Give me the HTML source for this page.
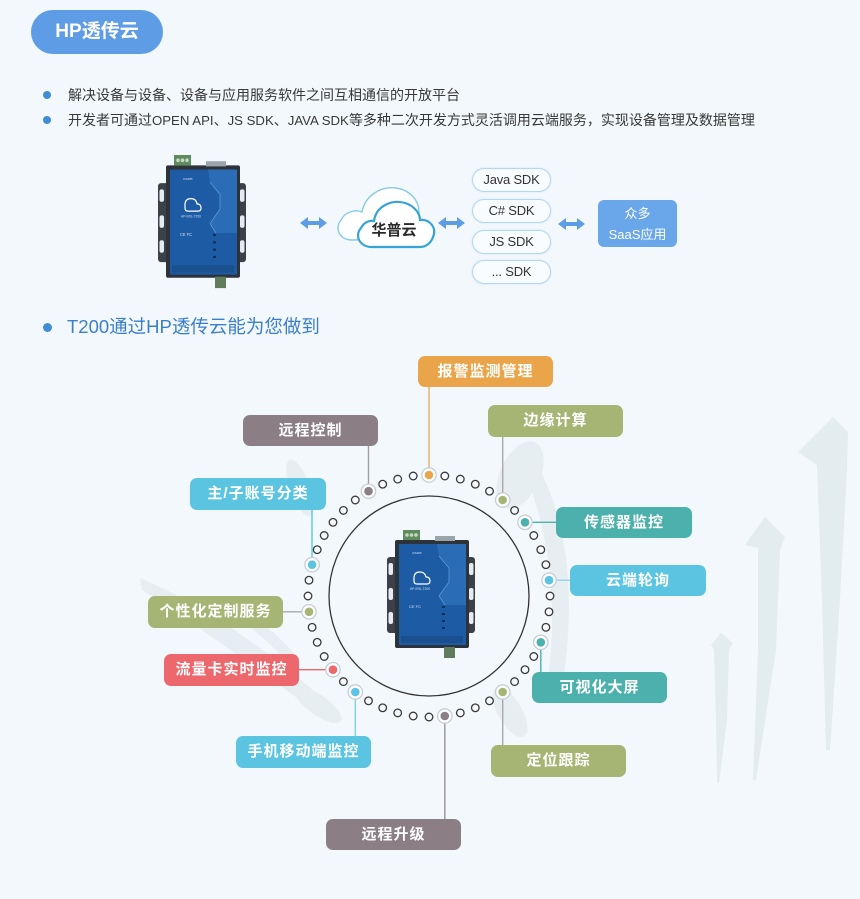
<!DOCTYPE html>
<html>
<head>
<meta charset="utf-8">
<style>
  html,body{margin:0;padding:0;}
  body{width:860px;height:899px;background:#f3f8fc;position:relative;overflow:hidden;
       font-family:"Liberation Sans","Noto Sans CJK SC",sans-serif;}
  .abs{position:absolute;}
  .pill{left:31px;top:10px;width:132px;height:44px;border-radius:22px;background:#5e9de6;
        color:#fff;font-weight:bold;font-size:19px;line-height:44px;text-align:center;}
  .dot{width:8px;height:8px;border-radius:50%;background:#3f8ed3;}
  .bl{left:68px;font-size:14px;line-height:20px;color:#383838;white-space:nowrap;}
  .bl .l{font-size:13.2px;}
  .h2{left:67px;top:314px;font-size:18.5px;line-height:26px;color:#3a7fcc;white-space:nowrap;}
  .sdk{left:472px;width:77px;height:22px;border-radius:12px;border:1.5px solid #b3d6f1;
       background:#f9fcff;box-shadow:0 0 2px #cfe4f5;color:#333;font-size:13px;line-height:22px;
       text-align:center;letter-spacing:-0.2px;}
  .saas{left:598px;top:200px;width:79px;height:47px;border-radius:6px;background:#6aa6ea;color:#fff;
        font-size:13px;line-height:21px;text-align:center;padding-top:3px;box-sizing:border-box;}
  .b{position:absolute;width:135px;height:31px;border-radius:7px;color:#fff;font-weight:bold;
     font-size:15px;line-height:31px;text-align:center;letter-spacing:1px;white-space:nowrap;}
  .or{background:#eaa54b;} .ol{background:#a6b574;} .ma{background:#8b7e85;}
  .cy{background:#5bc5e1;} .te{background:#4cb1ad;} .rd{background:#ec686d;}
</style>
</head>
<body>

<!-- background decorative feathers / arrows -->
<svg class="abs" style="left:0;top:0" width="860" height="899" viewBox="0 0 860 899">
  <g fill="#e3ecef">
    <polygon points="833,417 848,432 847,470 840,600 830,750 826,750 822,600 817,465 798,452"/>
    <polygon points="765,517 785,537 780,550 776,650 756,780 753,780 758,650 758,548 745,545"/>
    <polygon points="721,633 733,643 729,650 727,720 719,783 717,783 716,720 714,650 711,645"/>
  </g>
  <g fill="#e6eef1">
    <path d="M140,578 Q230,615 338,712 L332,724 Q220,640 142,590 Z"/>
    <path d="M230,600 Q270,625 300,660 L292,666 Q262,635 226,608 Z"/>
    <ellipse cx="300" cy="488" rx="10" ry="30" transform="rotate(-20 300 488)"/>
    <ellipse cx="520" cy="475" rx="20" ry="36" transform="rotate(25 520 475)"/>
    <path d="M540,470 Q585,560 560,700 L545,700 Q565,580 528,480 Z"/>
    <ellipse cx="318" cy="705" rx="28" ry="10" transform="rotate(35 318 705)"/>
    <ellipse cx="510" cy="712" rx="12" ry="28" transform="rotate(-30 510 712)"/>
  </g>
</svg>

<!-- header -->
<div class="abs pill">HP透传云</div>

<div class="abs dot" style="left:43px;top:91px;"></div>
<div class="abs bl" style="top:85px;">解决设备与设备、设备与应用服务软件之间互相通信的开放平台</div>
<div class="abs dot" style="left:43px;top:116px;"></div>
<div class="abs bl" style="top:110px;">开发者可通过<span class="l">OPEN API</span>、<span class="l">JS SDK</span>、<span class="l">JAVA SDK</span>等多种二次开发方式灵活调用云端服务，实现设备管理及数据管理</div>

<!-- top diagram graphics -->
<svg class="abs" style="left:0;top:0" width="860" height="899" viewBox="0 0 860 899">
  <!-- device 1 -->
  <g transform="translate(158,155) scale(1,1.04)">
    <rect x="0" y="27" width="88" height="76" rx="3" fill="#3b4049"/>
    <rect x="1.5" y="33" width="4.5" height="12" rx="2" fill="#e6ebef"/>
    <rect x="1.5" y="58" width="4.5" height="12" rx="2" fill="#e6ebef"/>
    <rect x="1.5" y="82" width="4.5" height="12" rx="2" fill="#e6ebef"/>
    <rect x="82" y="33" width="4.5" height="12" rx="2" fill="#e6ebef"/>
    <rect x="82" y="58" width="4.5" height="12" rx="2" fill="#e6ebef"/>
    <rect x="82" y="82" width="4.5" height="12" rx="2" fill="#e6ebef"/>
    <rect x="8" y="10" width="74" height="108" rx="2" fill="#2e333a"/>
    <rect x="12" y="14" width="67" height="101" fill="#1d5ba4"/>
    <path d="M50,14 L79,14 L79,75 L58,75 L52,66 L62,52 L62,38 L52,26 Z" fill="#2a6db6"/>
    <path d="M52,26 L62,38 L62,52 L52,66 L58,75" stroke="#5a9ad6" stroke-width="0.8" fill="none"/>
    <rect x="16" y="0" width="17" height="10" fill="#5f8c5c"/>
    <circle cx="20" cy="5" r="1.8" fill="#c9d6c5"/><circle cx="24.5" cy="5" r="1.8" fill="#c9d6c5"/><circle cx="29" cy="5" r="1.8" fill="#c9d6c5"/>
    <rect x="48" y="6" width="20" height="5" fill="#9aa4ad"/>
    <rect x="57" y="117" width="11" height="11" fill="#5f7c5c"/>
    <path d="M27,48 q0,-6 6,-6 q5,0 6,5 q4,0 4,4 q0,3 -3,3 l-10,0 q-3,0 -3,-3 z" fill="none" stroke="#fff" stroke-width="1.2"/>
    <text x="33" y="60" font-size="3.2" fill="#cfe0f2" text-anchor="middle">HP-ERL-T200</text>
    <text x="30" y="24" font-size="3" fill="#cfe0f2" text-anchor="middle">RS485</text>
    <text x="28" y="78" font-size="4" fill="#cfe0f2" text-anchor="middle">CE FC</text>
    <rect x="55" y="76" width="3" height="2" fill="#0d2f5a"/><rect x="55" y="83" width="3" height="2" fill="#0d2f5a"/>
    <rect x="55" y="90" width="3" height="2" fill="#0d2f5a"/><rect x="55" y="97" width="3" height="2" fill="#0d2f5a"/>
    <rect x="14" y="106" width="62" height="7" fill="#1a4f90"/>
  </g>

  <!-- arrows -->
  <g fill="#5e9de6">
    <polygon points="300,223 308,217 308,221 319,221 319,217 327,223 319,229 319,225 308,225 308,229"/>
    <polygon points="438,223 446,217 446,221 457,221 457,217 465,223 457,229 457,225 446,225 446,229"/>
    <polygon points="558,224 566,218 566,222 577,222 577,218 585,224 577,230 577,226 566,226 566,230"/>
  </g>

  <!-- cloud -->
  <path d="M352,240 C340,240 334,229 341,220 C345,212 355,209 362,212 C365,196 380,186 396,188 C410,190 419,200 419,212 L420,238 Z"
        fill="#ffffff" stroke="#86cbe6" stroke-width="1.4"/>
  <path d="M372,247 C360,247 354,236 361,228 C364,222 370,220 374,221 C376,206 392,199 405,203 C415,206 420,214 420,220 C430,219 437,228 433,237 C431,243 426,247 420,247 Z"
        fill="#ffffff" stroke="#37a3d6" stroke-width="2.2"/>
  <text x="394" y="235" font-size="15" font-weight="bold" fill="#2a2a2a" text-anchor="middle"
        font-family="Liberation Sans, Noto Sans CJK SC, sans-serif">华普云</text>
</svg>

<div class="abs sdk" style="top:168px;">Java SDK</div>
<div class="abs sdk" style="top:199px;">C# SDK</div>
<div class="abs sdk" style="top:230px;">JS SDK</div>
<div class="abs sdk" style="top:260px;">... SDK</div>
<div class="abs saas">众多<br>SaaS应用</div>

<!-- section heading -->
<div class="abs dot" style="left:43px;top:323px;width:9px;height:9px;"></div>
<div class="abs h2">T200通过HP透传云能为您做到</div>

<!-- ring diagram -->
<svg class="abs" style="left:0;top:0" width="860" height="899" viewBox="0 0 860 899">
  <!-- connector lines -->
  <g stroke-width="1.4" fill="none">
    <line x1="429" y1="387" x2="429" y2="468" stroke="#e6ac62"/>
    <line x1="502.7" y1="437" x2="502.7" y2="493" stroke="#aaa7a8"/>
    <line x1="368.5" y1="446" x2="368.5" y2="484" stroke="#a39ca0"/>
    <line x1="312" y1="510" x2="312" y2="557" stroke="#5bc5e1"/>
    <line x1="532" y1="522.3" x2="557" y2="522.3" stroke="#4cb1ad"/>
    <line x1="556" y1="580.2" x2="571" y2="580.2" stroke="#8fd3ea"/>
    <line x1="540.8" y1="649" x2="540.8" y2="672" stroke="#4cb1ad"/>
    <line x1="502.7" y1="699" x2="502.7" y2="745" stroke="#aaa7a8"/>
    <line x1="444.8" y1="723" x2="444.8" y2="819" stroke="#9a9399"/>
    <line x1="355.3" y1="699" x2="355.3" y2="736" stroke="#7fd0e8"/>
    <line x1="299" y1="669.7" x2="326" y2="669.7" stroke="#ec686d"/>
    <line x1="283" y1="611.8" x2="302" y2="611.8" stroke="#aaa7a8"/>
  </g>

  <!-- big circle -->
  <circle cx="429" cy="596" r="100" fill="none" stroke="#333" stroke-width="1.3"/>

  <!-- hollow dots -->
  <g fill="#f6fafd" stroke="#3a3a3a" stroke-width="1.3">
    <circle cx="444.8" cy="476.0" r="3.8"/><circle cx="460.3" cy="479.1" r="3.8"/>
    <circle cx="475.3" cy="484.2" r="3.8"/><circle cx="489.5" cy="491.2" r="3.8"/>
    <circle cx="514.6" cy="510.4" r="3.8"/>
    <circle cx="533.8" cy="535.5" r="3.8"/><circle cx="540.8" cy="549.7" r="3.8"/>
    <circle cx="545.9" cy="564.7" r="3.8"/>
    <circle cx="550" cy="596" r="3.8"/><circle cx="549.0" cy="611.8" r="3.8"/>
    <circle cx="545.9" cy="627.3" r="3.8"/>
    <circle cx="533.8" cy="656.5" r="3.8"/><circle cx="525.0" cy="669.7" r="3.8"/>
    <circle cx="514.6" cy="681.6" r="3.8"/>
    <circle cx="489.5" cy="700.8" r="3.8"/><circle cx="475.3" cy="707.8" r="3.8"/>
    <circle cx="460.3" cy="712.9" r="3.8"/>
    <circle cx="429" cy="717" r="3.8"/><circle cx="413.2" cy="716.0" r="3.8"/>
    <circle cx="397.7" cy="712.9" r="3.8"/><circle cx="382.7" cy="707.8" r="3.8"/>
    <circle cx="368.5" cy="700.8" r="3.8"/>
    <circle cx="343.4" cy="681.6" r="3.8"/>
    <circle cx="324.2" cy="656.5" r="3.8"/><circle cx="317.2" cy="642.3" r="3.8"/>
    <circle cx="312.1" cy="627.3" r="3.8"/>
    <circle cx="308" cy="596" r="3.8"/><circle cx="309.0" cy="580.2" r="3.8"/>
    <circle cx="317.2" cy="549.7" r="3.8"/><circle cx="324.2" cy="535.5" r="3.8"/>
    <circle cx="333.0" cy="522.3" r="3.8"/><circle cx="343.4" cy="510.4" r="3.8"/>
    <circle cx="355.3" cy="500.0" r="3.8"/>
    <circle cx="382.7" cy="484.2" r="3.8"/><circle cx="397.7" cy="479.1" r="3.8"/>
    <circle cx="413.2" cy="476.0" r="3.8"/>
  </g>

  <!-- colored dots -->
  <g fill="#ffffff" stroke="#c5ced6" stroke-width="1.3">
    <circle cx="429" cy="475" r="7.2"/>
    <circle cx="502.7" cy="500.0" r="7.2"/>
    <circle cx="525.0" cy="522.3" r="7.2"/>
    <circle cx="549.0" cy="580.2" r="7.2"/>
    <circle cx="540.8" cy="642.3" r="7.2"/>
    <circle cx="502.7" cy="692.0" r="7.2"/>
    <circle cx="444.8" cy="716.0" r="7.2"/>
    <circle cx="355.3" cy="692.0" r="7.2"/>
    <circle cx="333.0" cy="669.7" r="7.2"/>
    <circle cx="309.0" cy="611.8" r="7.2"/>
    <circle cx="312.1" cy="564.7" r="7.2"/>
    <circle cx="368.5" cy="491.2" r="7.2"/>
  </g>
  <circle cx="429" cy="475" r="4.3" fill="#eaa54b"/>
  <circle cx="502.7" cy="500.0" r="4.3" fill="#a6b574"/>
  <circle cx="525.0" cy="522.3" r="4.3" fill="#4cb1ad"/>
  <circle cx="549.0" cy="580.2" r="4.3" fill="#5bc5e1"/>
  <circle cx="540.8" cy="642.3" r="4.3" fill="#4cb1ad"/>
  <circle cx="502.7" cy="692.0" r="4.3" fill="#a6b574"/>
  <circle cx="444.8" cy="716.0" r="4.3" fill="#8b7e85"/>
  <circle cx="355.3" cy="692.0" r="4.3" fill="#5bc5e1"/>
  <circle cx="333.0" cy="669.7" r="4.3" fill="#ec686d"/>
  <circle cx="309.0" cy="611.8" r="4.3" fill="#a6b574"/>
  <circle cx="312.1" cy="564.7" r="4.3" fill="#5bc5e1"/>
  <circle cx="368.5" cy="491.2" r="4.3" fill="#8b7e85"/>

  <!-- center device -->
  <g transform="translate(387,530)">
    <rect x="0" y="27" width="88" height="76" rx="3" fill="#3b4049"/>
    <rect x="1.5" y="33" width="4.5" height="12" rx="2" fill="#e6ebef"/>
    <rect x="1.5" y="58" width="4.5" height="12" rx="2" fill="#e6ebef"/>
    <rect x="1.5" y="82" width="4.5" height="12" rx="2" fill="#e6ebef"/>
    <rect x="82" y="33" width="4.5" height="12" rx="2" fill="#e6ebef"/>
    <rect x="82" y="58" width="4.5" height="12" rx="2" fill="#e6ebef"/>
    <rect x="82" y="82" width="4.5" height="12" rx="2" fill="#e6ebef"/>
    <rect x="8" y="10" width="74" height="108" rx="2" fill="#2e333a"/>
    <rect x="12" y="14" width="67" height="101" fill="#1d5ba4"/>
    <path d="M50,14 L79,14 L79,75 L58,75 L52,66 L62,52 L62,38 L52,26 Z" fill="#2a6db6"/>
    <path d="M52,26 L62,38 L62,52 L52,66 L58,75" stroke="#5a9ad6" stroke-width="0.8" fill="none"/>
    <rect x="16" y="0" width="17" height="10" fill="#5f8c5c"/>
    <circle cx="20" cy="5" r="1.8" fill="#c9d6c5"/><circle cx="24.5" cy="5" r="1.8" fill="#c9d6c5"/><circle cx="29" cy="5" r="1.8" fill="#c9d6c5"/>
    <rect x="48" y="6" width="20" height="5" fill="#9aa4ad"/>
    <rect x="57" y="117" width="11" height="11" fill="#5f7c5c"/>
    <path d="M27,48 q0,-6 6,-6 q5,0 6,5 q4,0 4,4 q0,3 -3,3 l-10,0 q-3,0 -3,-3 z" fill="none" stroke="#fff" stroke-width="1.2"/>
    <text x="33" y="60" font-size="3.2" fill="#cfe0f2" text-anchor="middle">HP-ERL-T200</text>
    <text x="30" y="24" font-size="3" fill="#cfe0f2" text-anchor="middle">RS485</text>
    <text x="28" y="78" font-size="4" fill="#cfe0f2" text-anchor="middle">CE FC</text>
    <rect x="55" y="76" width="3" height="2" fill="#0d2f5a"/><rect x="55" y="83" width="3" height="2" fill="#0d2f5a"/>
    <rect x="55" y="90" width="3" height="2" fill="#0d2f5a"/><rect x="55" y="97" width="3" height="2" fill="#0d2f5a"/>
    <rect x="14" y="106" width="62" height="7" fill="#1a4f90"/>
  </g>
</svg>

<!-- label boxes -->
<div class="b or" style="left:418px;top:356px;">报警监测管理</div>
<div class="b ol" style="left:488px;top:405px;height:32px;line-height:32px;">边缘计算</div>
<div class="b ma" style="left:243px;top:415px;">远程控制</div>
<div class="b cy" style="left:190px;top:478px;width:136px;height:32px;line-height:32px;">主/子账号分类</div>
<div class="b te" style="left:556px;top:507px;width:136px;">传感器监控</div>
<div class="b cy" style="left:570px;top:565px;width:136px;">云端轮询</div>
<div class="b ol" style="left:148px;top:596px;height:32px;line-height:32px;">个性化定制服务</div>
<div class="b rd" style="left:164px;top:654px;height:32px;line-height:32px;">流量卡实时监控</div>
<div class="b te" style="left:532px;top:672px;">可视化大屏</div>
<div class="b cy" style="left:236px;top:736px;height:32px;line-height:32px;">手机移动端监控</div>
<div class="b ol" style="left:491px;top:745px;height:32px;line-height:32px;">定位跟踪</div>
<div class="b ma" style="left:326px;top:819px;">远程升级</div>

</body>
</html>
